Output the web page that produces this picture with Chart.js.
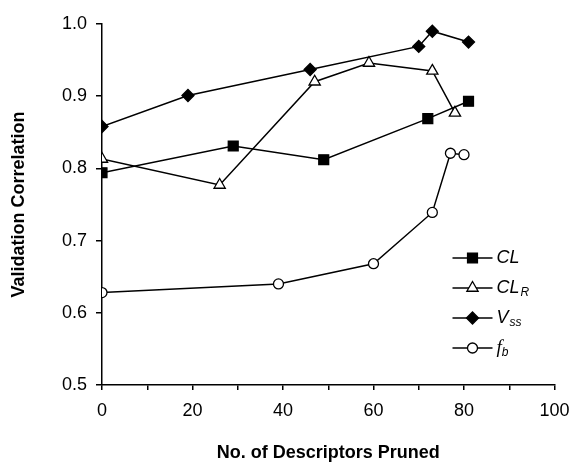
<!DOCTYPE html>
<html>
<head>
<meta charset="utf-8">
<title>Validation Correlation vs. Descriptors Pruned</title>
<script src="https://cdn.jsdelivr.net/npm/chart.js"></script>
<style>
    body { margin: 0; background: #fff; }
    #chart { display: block; }
</style>
</head>
<body>
<canvas id="chart" width="572" height="464"></canvas>
<script>
// values
const clPruned = [0, 29, 49, 72, 81];
const clCorr = [0.794, 0.831, 0.812, 0.869, 0.893];

const clrPruned = [0, 26, 47, 59, 73, 78];
const clrCorr = [0.813, 0.777, 0.920, 0.946, 0.935, 0.877];

const vssPruned = [0, 19, 46, 70, 73, 81];
const vssCorr = [0.858, 0.901, 0.937, 0.969, 0.990, 0.975];

const fbPruned = [0, 39, 60, 73, 77, 80];
const fbCorr = [0.628, 0.640, 0.668, 0.739, 0.821, 0.819];

const xTicks = [0, 20, 40, 60, 80, 100];
const yTicks = [0.5, 0.6, 0.7, 0.8, 0.9, 1.0];

// legend labels: main text + subscript
const legendLabels = [
    { main: 'CL', sub: '' },
    { main: 'CL', sub: 'R' },
    { main: 'V', sub: 'ss' },
    { main: 'f', sub: 'b', serif: true }
];

const SANS = '"Liberation Sans", Arial, Helvetica, sans-serif';
const SERIF = '"Liberation Serif", "Times New Roman", serif';

const toPoints = (xs, ys) => xs.map((x, i) => ({ x: x, y: ys[i] }));

function series(xs, ys, style, radius, fill) {
    return {
        data: toPoints(xs, ys),
        borderColor: '#000',
        borderWidth: 1.5,
        pointStyle: style,
        pointRadius: radius,
        pointBackgroundColor: fill,
        pointBorderColor: '#000',
        pointBorderWidth: 1.3,
        tension: 0
    };
}

const legendPlugin = {
    id: 'subLegend',
    afterDraw(chart) {
        const ctx = chart.ctx;
        const area = chart.chartArea;
        const x0 = area.right - 102;
        const y0 = 258;
        const gap = 30;
        chart.data.datasets.forEach((ds, i) => {
            const y = y0 + i * gap;
            ctx.save();
            ctx.strokeStyle = '#000';
            ctx.lineWidth = 1.5;
            ctx.beginPath();
            ctx.moveTo(x0, y);
            ctx.lineTo(x0 + 40, y);
            ctx.stroke();
            ctx.fillStyle = ds.pointBackgroundColor;
            ctx.lineWidth = ds.pointBorderWidth;
            Chart.helpers.drawPoint(ctx, {
                pointStyle: ds.pointStyle,
                radius: ds.pointRadius,
                rotation: 0,
                borderWidth: ds.pointBorderWidth
            }, x0 + 20, y);

            const lab = legendLabels[i];
            ctx.fillStyle = '#000';
            ctx.textBaseline = 'middle';
            ctx.textAlign = 'left';
            ctx.font = lab.serif ? 'italic 19px ' + SERIF : 'italic 18px ' + SANS;
            const tx = x0 + 44;
            ctx.fillText(lab.main, tx, y);
            if (lab.sub) {
                const w = ctx.measureText(lab.main).width;
                ctx.font = 'italic 12px ' + SANS;
                ctx.fillText(lab.sub, tx + w + (lab.serif ? 0 : 1), y + 5);
            }
            ctx.restore();
        });
    }
};

const ctx = document.getElementById('chart').getContext('2d');
new Chart(ctx, {
    type: 'line',
    data: {
        datasets: [
            series(clPruned, clCorr, 'rect', 7, '#000'),
            series(clrPruned, clrCorr, 'triangle', 6.5, '#fff'),
            series(vssPruned, vssCorr, 'rectRot', 6, '#000'),
            series(fbPruned, fbCorr, 'circle', 5, '#fff')
        ]
    },
    options: {
        responsive: false,
        animation: false,
        layout: { padding: { top: 24, right: 17.5, bottom: 0, left: 0 } },
        plugins: {
            legend: { display: false },
            tooltip: { enabled: false }
        },
        scales: {
            x: {
                type: 'linear',
                min: xTicks[0],
                max: xTicks[xTicks.length - 1],
                afterFit: s => {
                    s.height = 79;
                    s.paddingLeft = 0;
                    s.paddingRight = 0;
                },
                grid: { drawOnChartArea: false, drawTicks: true, tickLength: 5, color: '#000', lineWidth: 1.5 },
                border: { display: true, color: '#000', width: 1.5 },
                ticks: {
                    stepSize: 10,
                    color: '#000',
                    padding: 10,
                    maxRotation: 0,
                    font: { family: SANS, size: 18 },
                    callback: v => xTicks.includes(v) ? String(v) : ''
                },
                title: {
                    display: true,
                    text: 'No. of Descriptors Pruned',
                    color: '#000',
                    font: { family: SANS, size: 18, weight: 'bold' },
                    padding: { top: 0, bottom: 0 }
                }
            },
            y: {
                min: yTicks[0],
                max: yTicks[yTicks.length - 1],
                afterFit: s => {
                    s.width = 102;
                    s.paddingTop = 0;
                    s.paddingBottom = 0;
                },
                grid: { drawOnChartArea: false, drawTicks: true, tickLength: 6, color: '#000', lineWidth: 1.5 },
                border: { display: true, color: '#000', width: 1.5 },
                ticks: {
                    stepSize: 0.1,
                    color: '#000',
                    padding: 9,
                    font: { family: SANS, size: 18 },
                    callback: v => Number(v).toFixed(1)
                },
                title: {
                    display: true,
                    text: 'Validation Correlation',
                    color: '#000',
                    font: { family: SANS, size: 18, weight: 'bold' },
                    padding: { top: 8, bottom: 4 }
                }
            }
        }
    },
    plugins: [legendPlugin]
});
</script>
</body>
</html>
